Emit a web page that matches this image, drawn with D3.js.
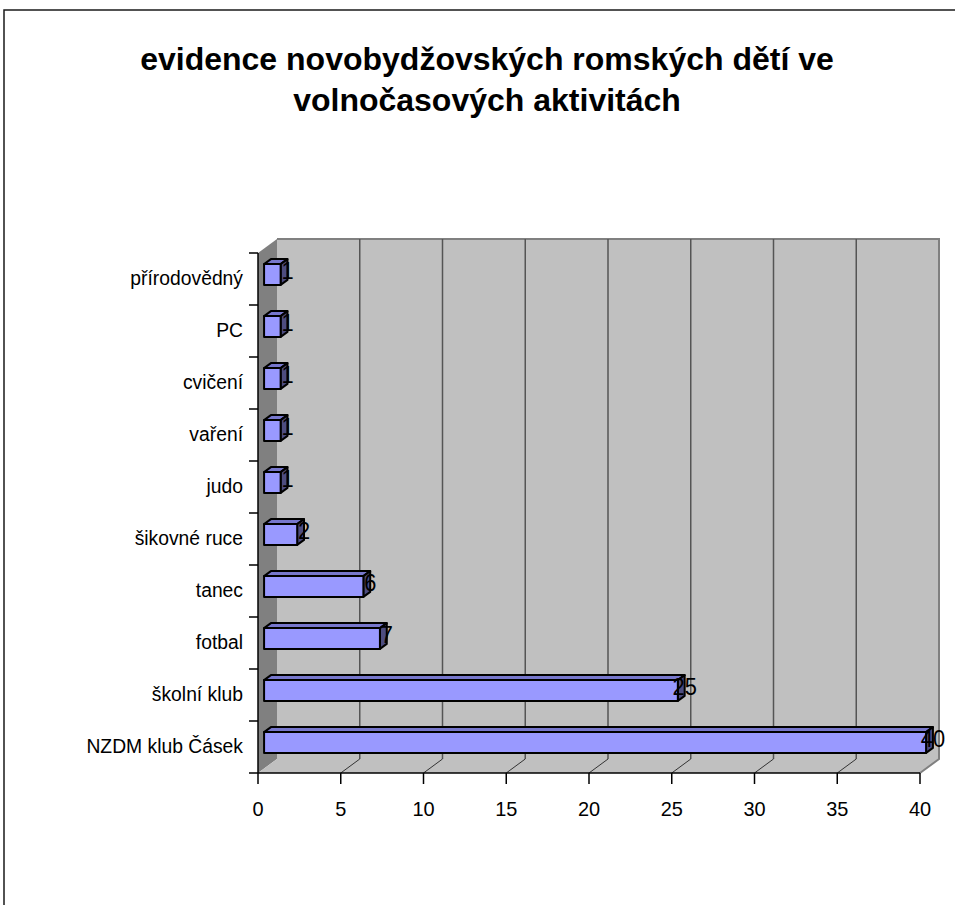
<!DOCTYPE html>
<html>
<head>
<meta charset="utf-8">
<script src="https://cdn.jsdelivr.net/npm/d3@7"></script>
<style>
  body { margin: 0; background: #fff; }
  svg { display: block; font-family: Arial, "Liberation Sans", sans-serif; }
</style>
</head>
<body>
<svg width="955" height="905"></svg>
<script>
// Data: categories from top to bottom, values in same order
var categories = ['přírodovědný', 'PC', 'cvičení', 'vaření', 'judo', 'šikovné ruce', 'tanec', 'fotbal', 'školní klub', 'NZDM klub Čásek'];
var values = [1, 1, 1, 1, 1, 2, 6, 7, 25, 40];
var xTicks = [0, 5, 10, 15, 20, 25, 30, 35, 40];
var titleLines = ['evidence novobydžovských romských dětí ve', 'volnočasových aktivitách'];

var data = categories.map(function (c, i) {
  return { name: c, value: values[i] };
});

var svg = d3.select('svg');

// 3D depth of the plot box
var depth = { dx: 19, dy: -14 };
// bar sits between these fractions of the depth
var barFront = 0.32, barBack = 0.68;
// axis text is drawn slightly narrow, like the original
var squeeze = 0.92;

// Scales (front plane)
var x = d3.scaleLinear().domain([0, 40]).range([258, 920]);
var y = d3.scaleBand().domain(categories).range([253, 773]);
var yBar = d3.scaleBand().domain(categories).range([253, 773]).paddingInner(0.6).paddingOuter(0.3);

var x0 = x.range()[0], x1 = x.range()[1];
var yT = y.range()[0], yB = y.range()[1];

// Outer frame
svg.append('rect')
  .attr('x', 4).attr('y', 10)
  .attr('width', 1000).attr('height', 1000)
  .attr('fill', 'none')
  .attr('stroke', '#1a1a1a')
  .attr('stroke-width', 1.5);

// Title
svg.append('text')
  .attr('text-anchor', 'middle')
  .attr('font-size', 32)
  .attr('font-weight', 'bold')
  .selectAll('tspan')
  .data(titleLines)
  .enter()
  .append('tspan')
  .attr('x', 487)
  .attr('y', function (d, i) { return 70 + i * 41; })
  .text(function (d) { return d; });

var walls = svg.append('g');

function pts(arr) {
  return arr.map(function (p) { return p.join(','); }).join(' ');
}

// back wall
walls.append('polygon')
  .attr('points', pts([
    [x0 + depth.dx, yT + depth.dy], [x1 + depth.dx, yT + depth.dy],
    [x1 + depth.dx, yB + depth.dy], [x0 + depth.dx, yB + depth.dy]
  ]))
  .attr('fill', '#c0c0c0');

// left side wall
walls.append('polygon')
  .attr('points', pts([
    [x0, yT], [x0 + depth.dx, yT + depth.dy],
    [x0 + depth.dx, yB + depth.dy], [x0, yB]
  ]))
  .attr('fill', '#808080');

// floor
walls.append('polygon')
  .attr('points', pts([
    [x0, yB], [x0 + depth.dx, yB + depth.dy],
    [x1 + depth.dx, yB + depth.dy], [x1, yB]
  ]))
  .attr('fill', '#c0c0c0');

// wall outline (top and right edges)
walls.append('polyline')
  .attr('points', pts([
    [x0 + depth.dx, yT + depth.dy], [x1 + depth.dx, yT + depth.dy],
    [x1 + depth.dx, yB + depth.dy], [x1, yB]
  ]))
  .attr('fill', 'none')
  .attr('stroke', '#808080')
  .attr('stroke-width', 2);

// gridlines on back wall and floor
var inner = xTicks.filter(function (d) { return d > 0 && d < 40; });

walls.selectAll('.grid')
  .data(inner)
  .enter()
  .append('line')
  .attr('class', 'grid')
  .attr('x1', function (d) { return x(d) + depth.dx; })
  .attr('x2', function (d) { return x(d) + depth.dx; })
  .attr('y1', yT + depth.dy)
  .attr('y2', yB + depth.dy)
  .attr('stroke', '#555')
  .attr('stroke-width', 1.5);

walls.selectAll('.floorgrid')
  .data(inner)
  .enter()
  .append('line')
  .attr('class', 'floorgrid')
  .attr('x1', function (d) { return x(d); })
  .attr('x2', function (d) { return x(d) + depth.dx; })
  .attr('y1', yB)
  .attr('y2', yB + depth.dy)
  .attr('stroke', '#333')
  .attr('stroke-width', 1);

// Bars
var bars = svg.append('g')
  .selectAll('g')
  .data(data)
  .enter()
  .append('g')
  .attr('stroke', '#000')
  .attr('stroke-width', 2)
  .attr('stroke-linejoin', 'round');

function fx(v) { return x(v) + depth.dx * barFront; }
function bx(v) { return x(v) + depth.dx * barBack; }
function fy(d) { return yBar(d.name) + depth.dy * barFront; }
function by(d) { return yBar(d.name) + depth.dy * barBack; }

// top face
bars.append('polygon')
  .attr('fill', '#7777cc')
  .attr('points', function (d) {
    return pts([[fx(0), fy(d)], [fx(d.value), fy(d)], [bx(d.value), by(d)], [bx(0), by(d)]]);
  });

// side face
bars.append('polygon')
  .attr('fill', '#4d4d80')
  .attr('points', function (d) {
    var h = yBar.bandwidth();
    return pts([[fx(d.value), fy(d)], [bx(d.value), by(d)], [bx(d.value), by(d) + h], [fx(d.value), fy(d) + h]]);
  });

// front face
bars.append('rect')
  .attr('fill', '#9999ff')
  .attr('x', fx(0))
  .attr('y', fy)
  .attr('width', function (d) { return fx(d.value) - fx(0); })
  .attr('height', yBar.bandwidth());

// Value labels
svg.append('g')
  .selectAll('text')
  .data(data)
  .enter()
  .append('text')
  .attr('transform', function (d) {
    var ty = (fy(d) + by(d)) / 2 + yBar.bandwidth() / 2 - 1;
    return 'translate(' + bx(d.value) + ',' + ty + ') scale(0.95,1)';
  })
  .attr('dy', '0.36em')
  .attr('text-anchor', 'middle')
  .attr('font-size', 23)
  .text(function (d) { return d.value; });

// Y axis (categories)
var yAxis = svg.append('g');
yAxis.append('line')
  .attr('x1', x0).attr('x2', x0)
  .attr('y1', yT).attr('y2', yB)
  .attr('stroke', '#000').attr('stroke-width', 1.5);

yAxis.selectAll('.tick')
  .data(d3.range(categories.length + 1))
  .enter()
  .append('line')
  .attr('x1', x0 - 9).attr('x2', x0)
  .attr('y1', function (i) { return yT + i * y.step(); })
  .attr('y2', function (i) { return yT + i * y.step(); })
  .attr('stroke', '#000').attr('stroke-width', 1.5);

yAxis.selectAll('text')
  .data(categories)
  .enter()
  .append('text')
  .attr('transform', function (d) {
    return 'translate(' + (x0 - 15) + ',' + (y(d) + y.bandwidth() / 2 - 2) + ') scale(' + squeeze + ',1)';
  })
  .attr('dy', '0.36em')
  .attr('text-anchor', 'end')
  .attr('font-size', 21)
  .text(function (d) { return d; });

// X axis (values)
var xAxis = svg.append('g');
xAxis.append('line')
  .attr('x1', x0).attr('x2', x1)
  .attr('y1', yB).attr('y2', yB)
  .attr('stroke', '#000').attr('stroke-width', 1.5);

xAxis.selectAll('.tick')
  .data(xTicks)
  .enter()
  .append('line')
  .attr('x1', function (d) { return x(d); })
  .attr('x2', function (d) { return x(d); })
  .attr('y1', yB).attr('y2', yB + 11)
  .attr('stroke', '#000').attr('stroke-width', 1.5);

xAxis.selectAll('text')
  .data(xTicks)
  .enter()
  .append('text')
  .attr('transform', function (d) {
    return 'translate(' + x(d) + ',' + (yB + 35) + ') scale(0.95,1)';
  })
  .attr('dy', '0.36em')
  .attr('text-anchor', 'middle')
  .attr('font-size', 21)
  .text(function (d) { return d; });
</script>
</body>
</html>
